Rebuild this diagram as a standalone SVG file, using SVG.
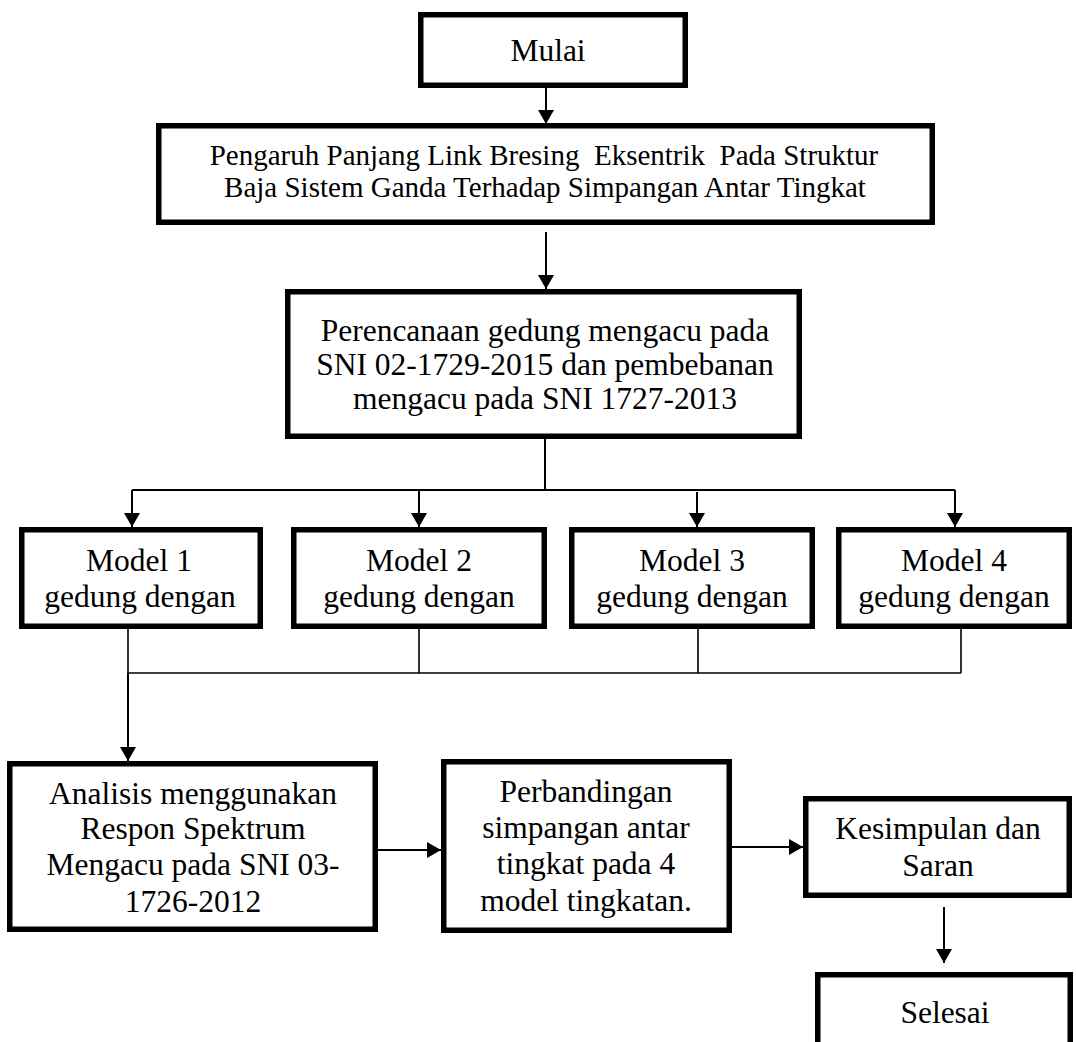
<svg xmlns="http://www.w3.org/2000/svg" width="1076" height="1042" viewBox="0 0 1076 1042">
  <style>
    .box { fill: #ffffff; stroke: #000000; stroke-width: 5.5; }
    .t { font-family: "Liberation Serif", "Times New Roman", serif; font-size: 31.5px; fill: #000000; text-anchor: middle; white-space: pre; }
    .t2 { font-size: 29px; }
    .tm { font-size: 31.5px; }
    .c { fill: none; stroke: #000000; stroke-width: 2; }
    .c2 { fill: none; stroke: #000000; stroke-width: 1.6; }
  </style>
  <defs>
    <marker id="ah" markerUnits="userSpaceOnUse" markerWidth="15" markerHeight="16" refX="14" refY="8" orient="auto">
      <path d="M0,0 L14,8 L0,16 z" fill="#000000"/>
    </marker>
  </defs>
  <rect width="1076" height="1042" fill="#ffffff"/>

  <g id="connectors">
    <line class="c" x1="546" y1="88" x2="546" y2="124" marker-end="url(#ah)"/>
    <line class="c" x1="546" y1="232" x2="546" y2="289" marker-end="url(#ah)"/>
    <polyline class="c" points="545,439 545,490"/>
    <polyline class="c" points="132,490 955,490"/>
    <line class="c" x1="132" y1="490" x2="132" y2="527" marker-end="url(#ah)"/>
    <line class="c" x1="419" y1="490" x2="419" y2="527" marker-end="url(#ah)"/>
    <line class="c" x1="697" y1="492" x2="697" y2="527" marker-end="url(#ah)"/>
    <line class="c" x1="955" y1="490" x2="955" y2="527" marker-end="url(#ah)"/>
    <line class="c2" x1="128" y1="629" x2="128" y2="673"/>
    <line class="c2" x1="419" y1="629" x2="419" y2="673"/>
    <line class="c2" x1="698" y1="629" x2="698" y2="673"/>
    <line class="c2" x1="961" y1="629" x2="961" y2="673"/>
    <line class="c2" x1="128" y1="673" x2="961" y2="673"/>
    <line class="c" x1="128" y1="673" x2="128" y2="761" marker-end="url(#ah)"/>
    <line class="c" x1="378" y1="850" x2="441" y2="850" marker-end="url(#ah)"/>
    <line class="c" x1="732" y1="847" x2="803" y2="847" marker-end="url(#ah)"/>
    <line class="c" x1="944" y1="907" x2="944" y2="963" marker-end="url(#ah)"/>
  </g>

  <g id="mulai">
    <rect class="box" x="420.75" y="14.75" width="264.5" height="70.5"/>
    <text class="t" x="548" y="61">Mulai</text>
  </g>

  <g id="judul">
    <rect class="box" x="158.75" y="125.75" width="773.5" height="96.5"/>
    <text class="t t2" x="544" y="165">Pengaruh Panjang Link Bresing  Eksentrik  Pada Struktur</text>
    <text class="t t2" x="545" y="197">Baja Sistem Ganda Terhadap Simpangan Antar Tingkat</text>
  </g>

  <g id="perencanaan">
    <rect class="box" x="287.75" y="291.75" width="511.5" height="144.5"/>
    <text class="t" x="545" y="341">Perencanaan gedung mengacu pada</text>
    <text class="t" x="545" y="375">SNI 02-1729-2015 dan pembebanan</text>
    <text class="t" x="545" y="409">mengacu pada SNI 1727-2013</text>
  </g>

  <g id="model1">
    <rect class="box" x="21.75" y="529.75" width="238.5" height="96.5"/>
    <text class="t tm" x="139" y="571">Model 1</text>
    <text class="t tm" x="140" y="607">gedung dengan</text>
  </g>
  <g id="model2">
    <rect class="box" x="293.75" y="529.75" width="250.5" height="96.5"/>
    <text class="t tm" x="419" y="571">Model 2</text>
    <text class="t tm" x="419" y="607">gedung dengan</text>
  </g>
  <g id="model3">
    <rect class="box" x="571.75" y="529.75" width="240.5" height="96.5"/>
    <text class="t tm" x="692" y="571">Model 3</text>
    <text class="t tm" x="692" y="607">gedung dengan</text>
  </g>
  <g id="model4">
    <rect class="box" x="838.75" y="529.75" width="230.5" height="96.5"/>
    <text class="t tm" x="954" y="571">Model 4</text>
    <text class="t tm" x="954" y="607">gedung dengan</text>
  </g>

  <g id="analisis">
    <rect class="box" x="9.75" y="763.75" width="365.5" height="165.5"/>
    <text class="t" x="193" y="804">Analisis menggunakan</text>
    <text class="t" x="193" y="839">Respon Spektrum</text>
    <text class="t" x="193" y="875">Mengacu pada SNI 03-</text>
    <text class="t" x="193" y="912">1726-2012</text>
  </g>

  <g id="perbandingan">
    <rect class="box" x="443.75" y="761.75" width="285.5" height="168.5"/>
    <text class="t" x="586" y="802">Perbandingan</text>
    <text class="t" x="586" y="838">simpangan antar</text>
    <text class="t" x="586" y="874">tingkat pada 4</text>
    <text class="t" x="586" y="911">model tingkatan.</text>
  </g>

  <g id="kesimpulan">
    <rect class="box" x="805.75" y="798.75" width="263.5" height="96.5"/>
    <text class="t" x="938" y="839">Kesimpulan dan</text>
    <text class="t" x="938" y="876">Saran</text>
  </g>

  <g id="selesai">
    <rect class="box" x="817.75" y="974.75" width="252.5" height="90"/>
    <text class="t" x="945" y="1023">Selesai</text>
  </g>
</svg>
